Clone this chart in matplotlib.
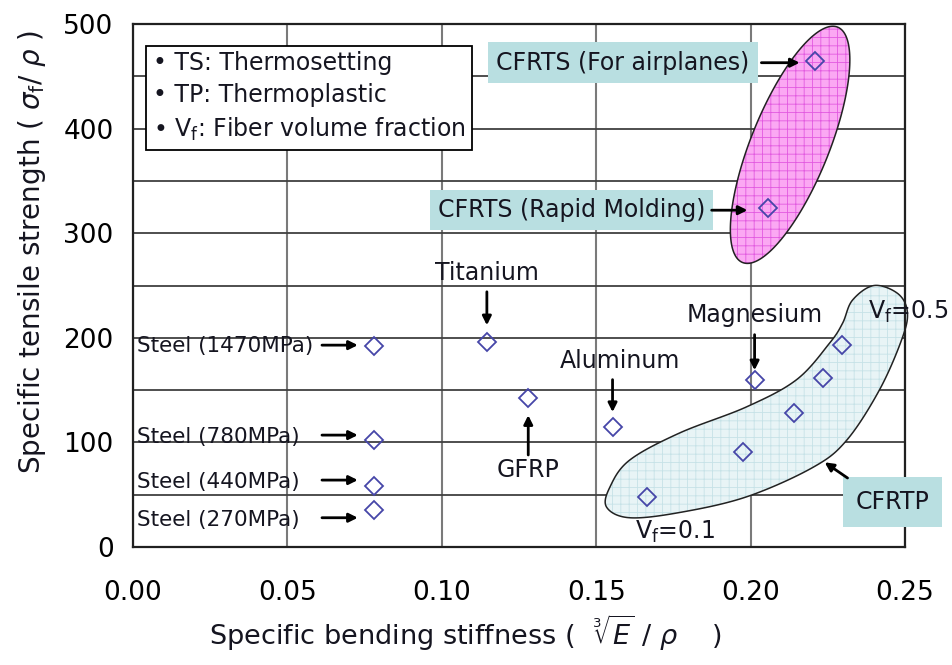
import numpy as np
import matplotlib
matplotlib.use('Agg')
import matplotlib.pyplot as plt
from matplotlib.patches import Polygon

plt.rcParams['font.family'] = ['DejaVu Sans']
plt.rcParams['mathtext.fontset'] = 'dejavusans'
plt.rcParams['hatch.linewidth'] = 0.6

# data: (specific bending stiffness, specific tensile strength)
steel_names = ['Steel (1470MPa)', 'Steel (780MPa)', 'Steel (440MPa)', 'Steel (270MPa)']
steel_x = [0.078, 0.078, 0.078, 0.078]
steel_y = [192, 102, 58, 35]

other_names = ['Titanium', 'GFRP', 'Aluminum', 'Magnesium']
other_x = [0.1146, 0.128, 0.1553, 0.2013]
other_y = [196, 142, 115, 160]

cfrtp_x = [0.1663, 0.1974, 0.2142, 0.2236, 0.2295]
cfrtp_y = [48, 91, 128, 162, 193]

cfrts_names = ['CFRTS (For airplanes)', 'CFRTS (Rapid Molding)']
cfrts_x = [0.221, 0.2055]
cfrts_y = [465, 324]

# outline of the CFRTP region
blob_x = [0.1534, 0.1608, 0.1770, 0.1987, 0.2201, 0.2311, 0.2417, 0.2489, 0.2508,
          0.2478, 0.2400, 0.2330, 0.2298, 0.2256, 0.2149, 0.1987, 0.1770, 0.1608, 0.1544]
blob_y = [38, 28, 33, 48, 76, 102, 150, 198, 224,
          242, 250, 236, 214, 195, 160, 134, 109, 83, 57]

# long axis ends of the CFRTS ellipse
ell_x = [0.2282, 0.1974]
ell_y = [497, 272]

legend_lines = ['• TS: Thermosetting', '• TP: Thermoplastic', r'• V$_{\rm f}$: Fiber volume fraction']

TXT = '#151520'
MK = '#4646a8'
BOX = '#b9dfe1'


def smooth_closed(xs, ys, n=24):
    p = np.column_stack([xs, ys])
    m = len(p)
    t = np.linspace(0, 1, n, endpoint=False)[:, None]
    out = []
    for i in range(m):
        p0, p1, p2, p3 = p[i - 1], p[i], p[(i + 1) % m], p[(i + 2) % m]
        out.append(0.5 * (2 * p1 + (-p0 + p2) * t + (2 * p0 - 5 * p1 + 4 * p2 - p3) * t ** 2
                          + (-p0 + 3 * p1 - 3 * p2 + p3) * t ** 3))
    return np.vstack(out)


fig = plt.figure(figsize=(9.52, 6.65), dpi=100)
ax = fig.add_axes([0.1397, 0.1774, 0.8109, 0.7865])
ax.set_xlim(0, 0.25)
ax.set_ylim(0, 500)
ax.set_xticks(np.arange(0, 0.2501, 0.05))
ax.set_xticklabels([f'{v:.2f}' for v in np.arange(0, 0.2501, 0.05)])
ax.set_yticks(range(0, 501, 100))
ax.set_yticks(range(50, 500, 100), minor=True)
ax.tick_params(axis='both', which='both', length=0, labelsize=19, colors='k')
ax.tick_params(axis='x', pad=24)
ax.tick_params(axis='y', pad=14)
ax.grid(axis='x', color='#7a7a7a', lw=1.5)
ax.grid(axis='y', which='both', color='#404040', lw=1.3)
ax.set_axisbelow(True)
for s in ax.spines.values():
    s.set_linewidth(1.6)
    s.set_color('#202020')

# CFRTP region
pts = smooth_closed(blob_x, blob_y)
ax.add_patch(Polygon(pts, closed=True, facecolor='#e8f4f6', edgecolor='#c6e2e7',
                     hatch='++', lw=0, clip_on=False, zorder=1.5))
ax.add_patch(Polygon(pts, closed=True, fill=False, edgecolor='#222222', lw=1.1,
                     clip_on=False, zorder=1.6))

# CFRTS ellipse, built in pixel space so it stays a true ellipse
top = ax.transData.transform((ell_x[0], ell_y[0]))
bot = ax.transData.transform((ell_x[1], ell_y[1]))
cen = (top + bot) / 2
a = np.linalg.norm(top - bot) / 2
u = (top - bot) / (2 * a)
v = np.array([-u[1], u[0]])
b = 39 * fig.dpi / 100
tt = np.linspace(0, 2 * np.pi, 240)
ell = cen + np.outer(a * np.cos(tt), u) + np.outer(b * np.sin(tt), v)
ell = ax.transData.inverted().transform(ell)
ax.add_patch(Polygon(ell, closed=True, facecolor='#fba8f3', edgecolor='#e25ae0',
                     hatch='++', lw=0, zorder=1.5))
ax.add_patch(Polygon(ell, closed=True, fill=False, edgecolor='#222222', lw=1.1, zorder=1.6))

# markers
mk = dict(ls='none', marker='D', ms=9.5, mfc='none', mec=MK, mew=1.3, zorder=3)
ax.plot(steel_x, steel_y, **mk)
ax.plot(other_x, other_y, **mk)
ax.plot(cfrtp_x, cfrtp_y, **mk)
ax.plot(cfrts_x, cfrts_y, **mk)

arr = dict(arrowstyle='-|>', color='k', lw=2, mutation_scale=13, shrinkA=0, shrinkB=0)

# steel labels
steel_text_y = [192, 105, 62, 26]
steel_arrow_y = [193, 107, 64, 28]
for name, ty, ay in zip(steel_names, steel_text_y, steel_arrow_y):
    ax.text(0.0013, ty, name, fontsize=15.5, color=TXT, ha='left', va='center', zorder=4)
    ax.annotate('', xy=(0.0728, ay), xytext=(0.0612, ay), arrowprops=arr, zorder=4)

# other materials
lab_pos = [(0.1146, 262), (0.128, 74), (0.1576, 178), (0.2013, 222)]
arrow_from = [(0.1146, 244), (0.128, 88), (0.1553, 160), (0.2013, 203)]
arrow_to = [(0.1146, 212), (0.128, 126), (0.1553, 129), (0.2013, 169)]
for name, p, f, t in zip(other_names, lab_pos, arrow_from, arrow_to):
    ax.text(p[0], p[1], name, fontsize=17, color=TXT, ha='center', va='center', zorder=4)
    ax.annotate('', xy=t, xytext=f, arrowprops=arr, zorder=4)

# CFRTS boxes
box = dict(boxstyle='square,pad=0.35', facecolor=BOX, edgecolor='none')
ts_pos = [(0.1586, 463), (0.142, 322)]
ts_arrow = [((0.2035, 463), (0.2159, 463)), ((0.1874, 322), (0.199, 322))]
for name, p, (f, t) in zip(cfrts_names, ts_pos, ts_arrow):
    ax.text(p[0], p[1], name, fontsize=17, color=TXT, ha='center', va='center',
            bbox=box, zorder=4)
    ax.annotate('', xy=t, xytext=f, arrowprops=arr, zorder=4)

# CFRTP box and Vf notes
ax.text(0.246, 43, 'CFRTP', fontsize=17, color=TXT, ha='center', va='center',
        bbox=dict(boxstyle='square,pad=0.55', facecolor=BOX, edgecolor='none'),
        zorder=4, clip_on=False)
ax.annotate('', xy=(0.224, 81), xytext=(0.2314, 66), arrowprops=arr, zorder=4)
ax.text(0.2379, 225, r'V$_{\rm f}$=0.5', fontsize=17, color=TXT, ha='left', va='center',
        zorder=4, clip_on=False)
ax.text(0.1625, 14, r'V$_{\rm f}$=0.1', fontsize=17, color=TXT, ha='left', va='center', zorder=4)

# note box
ax.text(0.0065, 430, '\n'.join(legend_lines), fontsize=17, color=TXT, ha='left', va='center',
        linespacing=1.42, zorder=5,
        bbox=dict(boxstyle='square,pad=0.28', facecolor='white', edgecolor='k', lw=1.3))

ax.set_ylabel(r'Specific tensile strength ( $\sigma_{\rm f}$/ $\rho$ )', fontsize=20, color=TXT)
ax.yaxis.set_label_coords(-0.11, 0.565)
ax.set_xlabel(r'Specific bending stiffness (  $\sqrt[3]{E}\ /\ \rho$    )', fontsize=19.5, color=TXT)
ax.xaxis.set_label_coords(0.43, -0.125)

fig.savefig('out.png', dpi=100)
